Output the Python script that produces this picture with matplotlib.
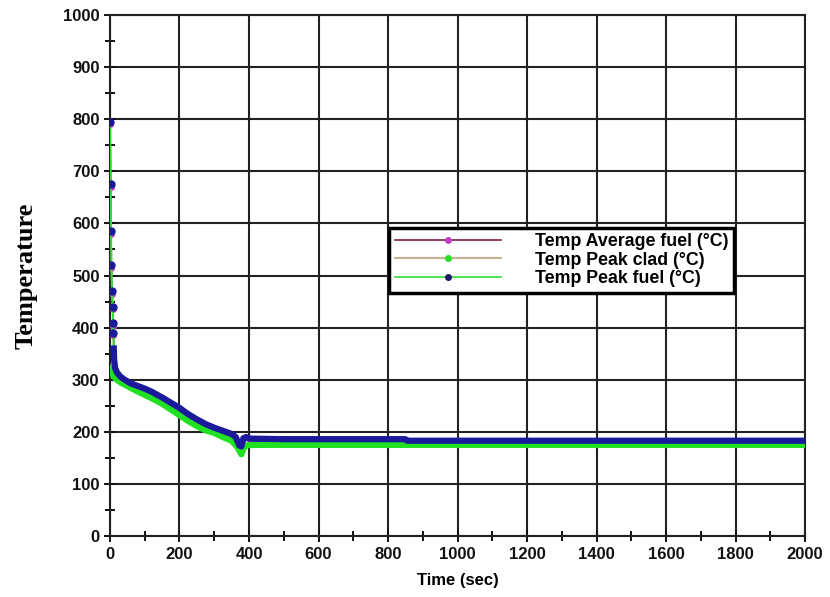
import matplotlib.pyplot as plt
from matplotlib.ticker import MultipleLocator
from matplotlib.lines import Line2D

# Transient temperatures (deg C) versus time (sec)
time_fuel = [0, 2, 3, 4, 6, 8, 9, 10, 11, 12, 15, 20, 30, 40, 50, 60, 80, 100,
             120, 150, 175, 200, 225, 250, 275, 300, 325, 350, 362, 372, 378,
             384, 392, 405, 500, 700, 850, 855, 1200, 1600, 2000]
peak_fuel = [795, 675, 585, 520, 470, 440, 408, 390, 360, 338, 322, 314, 306,
             301, 297, 293, 288, 283, 277, 266, 256, 246, 234, 224, 215, 208,
             202, 196, 190, 174, 172, 188, 190, 187, 186, 186, 186, 183, 183,
             183, 183]
avg_fuel = [790, 670, 580, 515, 465, 435, 403, 385, 355, 334, 318, 311, 303,
            298, 294, 290, 285, 280, 274, 263, 253, 243, 231, 221, 212, 205,
            199, 193, 187, 172, 170, 185, 187, 184, 183, 183, 183, 181, 181,
            181, 181]

time_clad = [0, 5, 10, 20, 30, 50, 75, 100, 125, 150, 175, 200, 225, 250, 275,
             300, 325, 350, 365, 372, 378, 384, 392, 410, 800, 1200, 1600, 2000]
peak_clad = [322, 316, 307, 300, 295, 288, 279, 271, 263, 254, 243, 232, 221,
             211, 203, 198, 190, 183, 172, 164, 157, 168, 174, 175, 175, 175,
             175, 175]

labels = ['Temp Average fuel (°C)', 'Temp Peak clad (°C)', 'Temp Peak fuel (°C)']

fig = plt.figure(figsize=(8.3, 5.97), dpi=100)
ax = fig.add_axes([0.1325, 0.102, 0.8375, 0.873])

# average fuel: maroon line, magenta dots (mostly hidden under peak fuel)
ax.plot(time_fuel, avg_fuel, color='#7a2040', lw=1.2, zorder=3)
ax.plot(time_fuel[8:], avg_fuel[8:], color='#b030b0', lw=3.5, zorder=3)
ax.plot(time_fuel[:8], avg_fuel[:8], ls='none', marker='o', ms=4,
        color='#c040c0', zorder=3)

# peak clad: tan line, green dots
ax.plot(time_clad, peak_clad, color='#c8b090', lw=1.2, zorder=4)
ax.plot(time_clad, peak_clad, color='#22e022', lw=4.5, zorder=4)

# peak fuel: green line, navy dots
ax.plot(time_fuel, peak_fuel, color='#33dd33', lw=1.5, zorder=5)
ax.plot(time_fuel[8:], peak_fuel[8:], color='#1a1a9a', lw=4.5, zorder=6)
ax.plot(time_fuel[:8], peak_fuel[:8], ls='none', marker='o', ms=5,
        color='#1a1a9a', zorder=6)

ax.set_xlim(0, 2000)
ax.set_ylim(0, 1000)
ax.xaxis.set_major_locator(MultipleLocator(200))
ax.xaxis.set_minor_locator(MultipleLocator(100))
ax.yaxis.set_major_locator(MultipleLocator(100))
ax.yaxis.set_minor_locator(MultipleLocator(50))
ax.grid(True, which='major', color='#222222', lw=1.5)
ax.set_axisbelow(True)
for s in ax.spines.values():
    s.set_linewidth(1.5)
    s.set_color('#222222')

tick_font = {'family': ['Liberation Sans Narrow', 'Liberation Sans'],
             'weight': 'bold', 'size': 12}
ax.tick_params(which='both', direction='inout', width=1.4, colors='#111111')
ax.tick_params(which='major', length=8)
ax.tick_params(which='minor', length=7)
for lab in ax.get_xticklabels() + ax.get_yticklabels():
    lab.set_fontproperties(tick_font)
    lab.set_fontsize(12)

ax.set_xlabel('Time (sec)', fontdict=tick_font, fontsize=12, labelpad=8)
ax.set_ylabel('Temperature', family='Liberation Serif', weight='bold',
              fontsize=19, labelpad=18)

handles = [
    Line2D([], [], color='#7a2040', lw=1.2, marker='o', ms=4,
           mfc='#c040c0', mec='#c040c0'),
    Line2D([], [], color='#c8b090', lw=1.5, marker='o', ms=4,
           mfc='#22e022', mec='#22e022'),
    Line2D([], [], color='#33dd33', lw=1.2, marker='o', ms=4,
           mfc='#1a1a6a', mec='#1a1a6a'),
]
leg = ax.legend(handles, labels, loc='upper left',
                bbox_to_anchor=(0.389, 0.609), fancybox=False, framealpha=1,
                edgecolor='black', borderpad=0.3, labelspacing=0.1,
                handlelength=6.0, handletextpad=1.9,
                prop={'family': ['Liberation Sans', 'DejaVu Sans'],
                      'weight': 'bold', 'size': 12.8})
leg.get_frame().set_linewidth(2.5)
leg.set_zorder(10)

fig.savefig('out.png', dpi=100)
